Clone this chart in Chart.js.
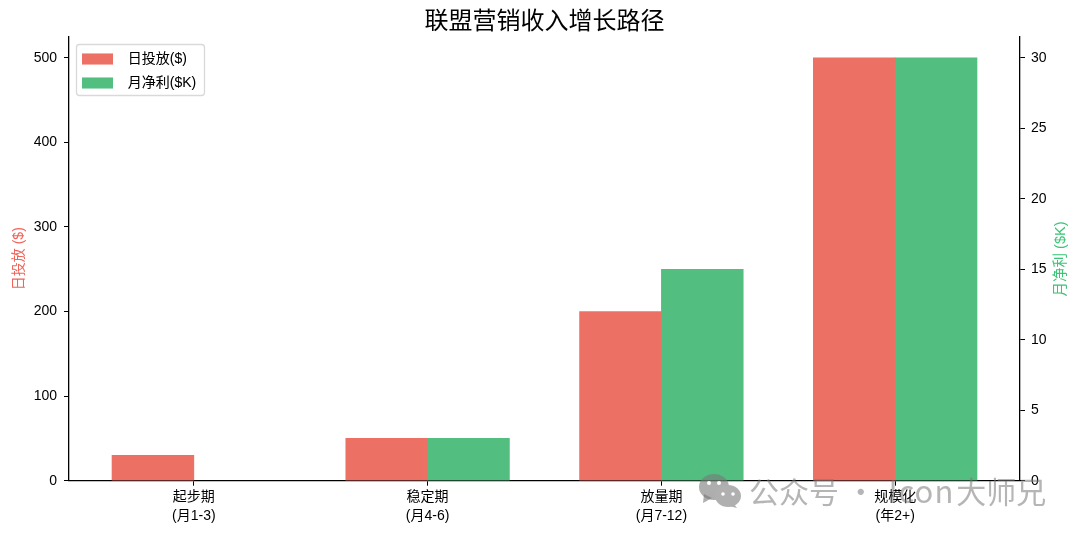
<!DOCTYPE html>
<html>
<head>
<meta charset="utf-8">
<script src="https://cdn.jsdelivr.net/npm/chart.js@4"></script>
<style>
  body { margin: 0; background: #fff; }
  #wrap { position: relative; width: 1080px; height: 535px; overflow: hidden; }
  #mark { position: absolute; left: 699px; top: 473px; display: flex; align-items: center; color: rgba(120, 120, 120, 0.55);
    font: 30px "Noto Sans CJK SC", sans-serif; line-height: 36px; white-space: nowrap; }
  #mark svg { margin-right: 8px; }
  #mark .text { position: relative; top: -1px; }
  #mark .latin { letter-spacing: 1px; margin-left: 6px; margin-right: 2px; font-size: 31px; }
</style>
</head>
<body>
<div id="wrap">
  <canvas id="chart" width="1080" height="535"></canvas>
  <div id="mark">
    <svg width="42" height="34" viewBox="0 0 42 34">
      <ellipse cx="15" cy="13" rx="15" ry="13" fill="rgba(120,120,120,0.6)"/>
      <path d="M5 20 L4 29 L13 24 Z" fill="rgba(120,120,120,0.6)"/>
      <ellipse cx="29" cy="22" rx="13" ry="11" fill="#b0b0b0"/>
      <path d="M35 30 L38 34 L30 32 Z" fill="#b0b0b0"/>
      <circle cx="24" cy="20" r="1.8" fill="#fff"/><circle cx="34" cy="20" r="1.8" fill="#fff"/>
      <circle cx="10" cy="9" r="2" fill="#fff"/><circle cx="20" cy="9" r="2" fill="#fff"/>
    </svg>
    <span class="text">公众号 · <span class="latin">Icon</span>大师兄</span>
  </div>
</div>
<script>
const categories = [['起步期', '(月1-3)'], ['稳定期', '(月4-6)'], ['放量期', '(月7-12)'], ['规模化', '(年2+)']];
const dailySpend = [30, 50, 200, 500];
const monthlyProfit = [0, 3, 15, 30];
const spendTicks = [0, 100, 200, 300, 400, 500];
const profitTicks = [0, 5, 10, 15, 20, 25, 30];

const fontFamily = '"Liberation Sans", "Noto Sans CJK SC", sans-serif';
const barWidth = 0.35;

function setTicks(values) {
    return function (scale) {
        scale.ticks = values.map(function (v) { return { value: v }; });
    };
}

// a zero value draws nothing, so it gets no bar at all
function toPoints(values, shift) {
    return values
        .map(function (v, i) { return { x: i + shift, y: v }; })
        .filter(function (p) { return p.y > 0; });
}

// title centred on the plot, legend frame and position, right axis title (reads bottom to top)
const extras = {
    id: 'extras',
    afterLayout(chart) {
        chart.titleBlock.left += 9;
        chart.legend.left = 72;
        chart.legend.top = 42;
    },
    afterDatasetsDraw(chart) {
        const ctx = chart.ctx;
        ctx.save();
        ctx.strokeStyle = '#d9d9d9';
        ctx.lineWidth = 1.3;
        ctx.fillStyle = 'rgba(255,255,255,0.8)';
        ctx.beginPath();
        ctx.roundRect(76.5, 44.5, 128, 51, 3);
        ctx.fill();
        ctx.stroke();
        ctx.restore();
        chart.legend.draw();
    },
    afterDraw(chart) {
        const ctx = chart.ctx;
        ctx.save();
        ctx.translate(1061, 259);
        ctx.rotate(-Math.PI / 2);
        ctx.textAlign = 'center';
        ctx.textBaseline = 'middle';
        ctx.fillStyle = '#3cc477';
        ctx.font = '14.5px ' + fontFamily;
        ctx.fillText('月净利 ($K)', 0, 0);
        ctx.restore();
    }
};

new Chart(document.getElementById('chart'), {
    type: 'bar',
    data: {
        datasets: [{
            label: '日投放($)',
            data: toPoints(dailySpend, -barWidth / 2),
            backgroundColor: '#ec7063',
            yAxisID: 'y',
        }, {
            label: '月净利($K)',
            data: toPoints(monthlyProfit, barWidth / 2),
            backgroundColor: '#52be80',
            yAxisID: 'y1',
        }],
    },
    options: {
        responsive: false,
        animation: false,
        devicePixelRatio: 1,
        grouped: false,
        barThickness: 81.8,
        layout: { padding: 0 },
        plugins: {
            tooltip: { enabled: false },
            title: {
                display: true,
                text: '联盟营销收入增长路径',
                color: '#000',
                font: { family: fontFamily, size: 24, weight: 'normal' },
                padding: { top: 7.7, bottom: 0.2 },
            },
            legend: {
                position: 'chartArea',
                align: 'start',
                labels: {
                    boxWidth: 31,
                    boxHeight: 11,
                    padding: 10,
                    color: '#000',
                    font: { family: fontFamily, size: 14 },
                    generateLabels(chart) {
                        return chart.data.datasets.map(function (d, i) {
                            return { text: '  ' + d.label, fillStyle: d.backgroundColor, strokeStyle: 'transparent', lineWidth: 0, datasetIndex: i, fontColor: '#000' };
                        });
                    },
                },
            },
        },
        scales: {
            x: {
                type: 'linear',
                offset: false,
                min: -0.534,
                max: 3.534,
                afterBuildTicks: setTicks([0, 1, 2, 3]),
                afterFit(scale) { scale.height = 54.3; },
                grid: { offset: false, drawOnChartArea: false, tickLength: 5, tickColor: '#000' },
                border: { color: '#000', width: 1.3 },
                ticks: {
                    color: '#000',
                    maxRotation: 0,
                    padding: 2,
                    font: { family: fontFamily, size: 14, lineHeight: 1.35 },
                    callback(value) { return categories[value]; },
                },
            },
            y: {
                position: 'left',
                min: 0,
                max: 525,
                afterBuildTicks: setTicks(spendTicks),
                afterFit(scale) { scale.width = 69; },
                grid: { drawOnChartArea: false, tickLength: 5, tickColor: '#000' },
                border: { color: '#000', width: 1.3 },
                title: { display: true, text: '日投放 ($)', color: '#f0645a', padding: { top: 11, bottom: 0 }, font: { family: fontFamily, size: 14 } },
                ticks: { color: '#000', padding: 7, font: { family: fontFamily, size: 14 } },
            },
            y1: {
                position: 'right',
                min: 0,
                max: 31.5,
                afterBuildTicks: setTicks(profitTicks),
                afterFit(scale) { scale.width = 60; },
                grid: { drawOnChartArea: false, tickLength: 5, tickColor: '#000' },
                border: { color: '#000', width: 1.3 },
                ticks: { color: '#000', padding: 6, font: { family: fontFamily, size: 14 } },
            },
        },
    },
    plugins: [extras],
});
</script>
</body>
</html>
